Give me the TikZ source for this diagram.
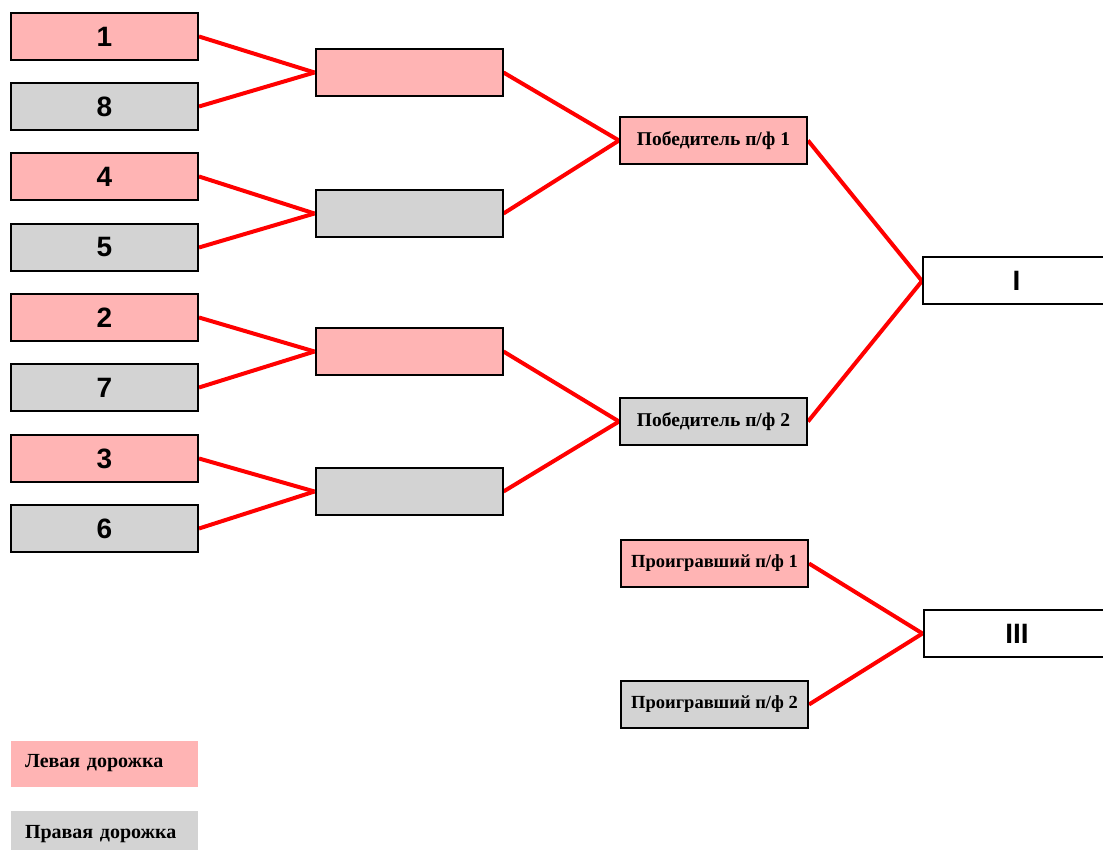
\documentclass[tikz,border=0pt]{standalone}
\usepackage{fontspec}
\setmainfont{Liberation Serif}
\newfontfamily\arialf{Liberation Sans}
\usetikzlibrary{backgrounds}
\definecolor{pinkc}{RGB}{255,180,180}
\definecolor{grayc}{RGB}{211,211,211}
\tikzset{
  team/.style={draw=black, line width=2pt, minimum width=187pt, minimum height=47pt, inner sep=0pt, font=\arialf\bfseries\fontsize{28}{30}\selectfont},
  wbox/.style={team, font=\bfseries\fontsize{19.5}{22}\selectfont},
  lbox/.style={team, font=\bfseries\fontsize{18.5}{21}\selectfont},
  pinkbox/.style={fill=pinkc},
  graybox/.style={fill=grayc},
  whitebox/.style={fill=white},
  legend/.style={minimum width=187pt, minimum height=46pt, inner sep=0pt, text width=159pt, align=left, font=\bfseries\fontsize{20}{22}\selectfont},
  link/.style={draw=red, line width=4pt},
}
\begin{document}
\begin{tikzpicture}[x=1pt,y=-1pt]
\useasboundingbox (0,0) rectangle (1103,850);
% first round
\node[team,pinkbox] (t1) at (104.5,36.5) {1};
\node[team,graybox] (t8) at (104.5,106.5) {8};
\node[team,pinkbox] (t4) at (104.5,176.5) {4};
\node[team,graybox] (t5) at (104.5,247.5) {5};
\node[team,pinkbox] (t2) at (104.5,317.5) {2};
\node[team,graybox] (t7) at (104.5,387.5) {7};
\node[team,pinkbox] (t3) at (104.5,458.5) {3};
\node[team,graybox] (t6) at (104.5,528.5) {6};
% quarter finals
\node[team,pinkbox] (q1) at (409,72.5) {};
\node[team,graybox] (q2) at (409,213.5) {};
\node[team,pinkbox] (q3) at (409,351.5) {};
\node[team,graybox] (q4) at (409,491.5) {};
% semi finals
\node[wbox,pinkbox] (s1) at (713.5,140.5) {Победитель п/ф 1};
\node[wbox,graybox] (s2) at (713.5,421.5) {Победитель п/ф 2};
% final
\node[team,whitebox] (f1) at (1016.5,281) {I};
% third place
\node[lbox,pinkbox] (l1) at (714.5,563.5) {Проигравший п/ф 1};
\node[lbox,graybox] (l2) at (714.5,704.5) {Проигравший п/ф 2};
\node[team,whitebox] (f3) at (1017,633.5) {III};
% legend
\node[legend,fill=pinkc] (lg1) at (104.5,763.5) {Левая дорожка};
\node[legend,fill=grayc] (lg2) at (104.5,834) {Правая дорожка};
\begin{scope}[on background layer]
\draw[link] (t1.east) -- (q1.west);
\draw[link] (t8.east) -- (q1.west);
\draw[link] (t4.east) -- (q2.west);
\draw[link] (t5.east) -- (q2.west);
\draw[link] (t2.east) -- (q3.west);
\draw[link] (t7.east) -- (q3.west);
\draw[link] (t3.east) -- (q4.west);
\draw[link] (t6.east) -- (q4.west);
\draw[link] (q1.east) -- (s1.west);
\draw[link] (q2.east) -- (s1.west);
\draw[link] (q3.east) -- (s2.west);
\draw[link] (q4.east) -- (s2.west);
\draw[link] (s1.east) -- (f1.west);
\draw[link] (s2.east) -- (f1.west);
\draw[link] (l1.east) -- (f3.west);
\draw[link] (l2.east) -- (f3.west);
\end{scope}
\end{tikzpicture}
\end{document}
